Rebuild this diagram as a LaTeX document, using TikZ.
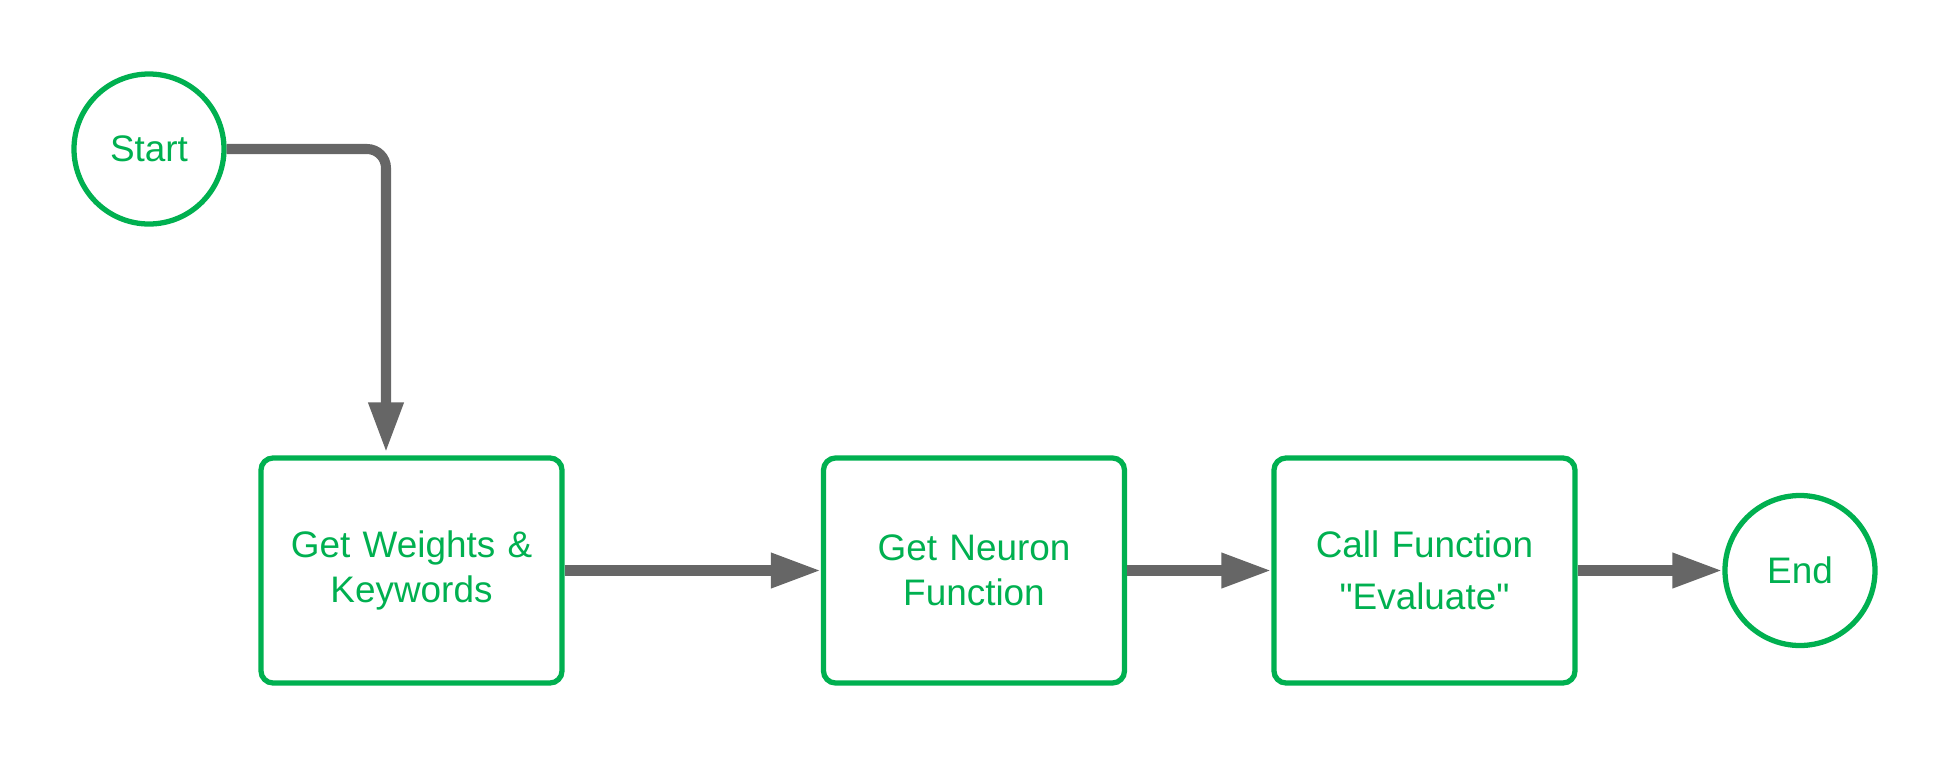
\documentclass[tikz,border=0pt]{standalone}
\usepackage{fontspec}
\setmainfont{Liberation Sans}
\usetikzlibrary{arrows.meta,positioning}
\definecolor{flowgreen}{HTML}{00B050}
\definecolor{arrgray}{HTML}{666666}

\begin{document}
\begin{tikzpicture}[
    stepbox/.style={
        rectangle, rounded corners=0.12cm,
        draw=flowgreen, line width=1.5pt,
        minimum width=3.01cm, minimum height=2.25cm,
        text width=2.6cm, align=center,
        text=flowgreen, font=\fontsize{10.5}{12.8}\selectfont,
    },
    terminal/.style={
        circle, draw=flowgreen, line width=1.5pt,
        minimum size=1.5cm, inner sep=0pt,
        text=flowgreen, font=\fontsize{10.5}{12.8}\selectfont,
    },
    arr/.style={-{Triangle[length=0.5cm,width=0.33cm]}, line width=2.85pt, color=arrgray},
]

% Page frame, same proportions as the reference
\useasboundingbox (0,0) rectangle (19.5,-7.59);

% Row height of the process boxes
\def\rowy{-5.705}

% Start and end
\node[terminal] (start) at (1.49,-1.49) {Start};
\node[terminal] (finish) at (18.00,\rowy) {End};

% Process steps
\node[stepbox] (weights) at (4.115,\rowy) {Get Weights \&\\Keywords};
\node[stepbox] (neuron) at (9.74,\rowy) {Get Neuron\\Function};
\node[stepbox] (callfn) at (14.245,\rowy) {Call Function\\[2pt]\textquotedbl Evaluate\textquotedbl};

% Arrows
\draw[arr, rounded corners=0.19cm] (start.east) -| ([xshift=-0.255cm,yshift=0.03cm]weights.north);
\draw[arr] (weights) -- (neuron);
\draw[arr] (neuron) -- (callfn);
\draw[arr] (callfn) -- (finish);

\end{tikzpicture}
\end{document}
